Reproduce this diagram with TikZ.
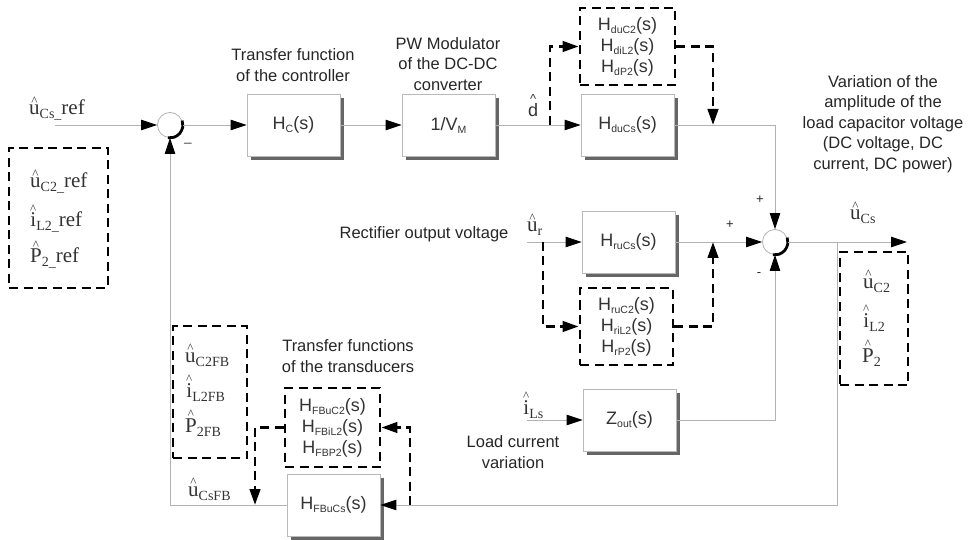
\documentclass[tikz,border=0pt]{standalone}
\usepackage{fontspec}
\setmainfont{Liberation Serif}
\setsansfont{Liberation Sans}
\usetikzlibrary{arrows.meta,shadows,calc}

\newcommand\hatt[1]{\leavevmode\vbox{\offinterlineskip\halign{\hfil##\hfil\cr{\fontsize{13}{13}\selectfont\char`\^}\cr\noalign{\kern0pt}#1\cr}}}
\newcommand\ssb[1]{\lower4pt\hbox{\fontsize{14}{14}\selectfont #1}}
\newcommand\bsb[1]{\lower3pt\hbox{\fontsize{10.5}{10.5}\selectfont #1}}
\newcommand\lblfont{\sffamily\fontsize{16.5}{20.5}\selectfont}
\newcommand\boxfont{\sffamily\fontsize{18}{21}\selectfont}
\newcommand\varfont{\rmfamily\fontsize{21}{21}\selectfont}

\begin{document}
\begin{tikzpicture}[x=1pt,y=-1pt,
  blk/.style={draw=gray!55, line width=0.8pt, fill=white, minimum width=93pt, minimum height=62pt, inner sep=0pt, font=\boxfont, text=black!80, drop shadow={shadow xshift=4pt, shadow yshift=-4pt, fill=black!60, opacity=1}},
  dbox/.style={draw=black, line width=2.8pt, dash pattern=on 9pt off 5.5pt, inner sep=0pt, align=center, font=\boxfont, text=black!80},
  conn/.style={draw=gray!60, line width=0.9pt},
  tip/.style={-{Triangle[length=16pt,width=10.5pt,color=black]}},
  dconn/.style={draw=black, line width=2.8pt, dash pattern=on 9pt off 5.5pt},
  sumj/.style={circle, draw=gray!60, line width=0.8pt, fill=white, minimum size=25pt, inner sep=0pt},
  lbl/.style={font=\lblfont, align=center, text=black!85},
  var/.style={font=\varfont, anchor=base west, inner sep=0pt, text=black!80},
  sgn/.style={font=\sffamily\fontsize{13}{13}\selectfont, inner sep=0pt, text=black!85},
]
\useasboundingbox (0,0) rectangle (975,540);

% summing junctions
\node[sumj] (s1) at (170,125) {};
\node[sumj] (s2) at (775,242) {};

% blocks
\node[blk] (Hc) at (293.5,125) {H\bsb{C}(s)};
\node[blk] (VM) at (448.5,125) {1/V\bsb{M}};
\node[blk] (HduCs) at (627.5,125) {H\bsb{duCs}(s)};
\node[blk] (Hr) at (628.5,242) {H\bsb{ruCs}(s)};
\node[blk] (Zout) at (629.5,420) {Z\bsb{out}(s)};
\node[blk] (HFB) at (333.5,505) {H\bsb{FBuCs}(s)};

% dashed boxes
\node[dbox, minimum width=95pt, minimum height=77pt] (d1) at (627.5,46.5)
  {H\bsb{duC2}(s)\\H\bsb{diL2}(s)\\H\bsb{dP2}(s)};
\node[dbox, minimum width=93pt, minimum height=77pt] (d2) at (626.5,326.5)
  {H\bsb{ruC2}(s)\\H\bsb{riL2}(s)\\H\bsb{rP2}(s)};
\node[dbox, minimum width=95pt, minimum height=79pt] (d3) at (332.5,427.5)
  {H\bsb{FBuC2}(s)\\H\bsb{FBiL2}(s)\\H\bsb{FBP2}(s)};
\node[dbox, minimum width=99pt, minimum height=140pt] (refbox) at (58.5,218) {};
\node[dbox, minimum width=68pt, minimum height=133pt] (outbox) at (874,318.5) {};
\node[dbox, minimum width=74pt, minimum height=132pt] (fbbox) at (210,392) {};

% junction shading arcs
\draw[line width=2.8pt] plot[smooth] coordinates {(s1.20) (s1.-10) (s1.-40) (s1.-70) (s1.-100)};
\draw[line width=2.8pt] plot[smooth] coordinates {(s2.20) (s2.-10) (s2.-40) (s2.-70) (s2.-100)};

% coordinates
\coordinate (in1) at (55,125);
\coordinate (dsplit) at (550,125);
\coordinate (dj) at (713,125);
\coordinate (c1) at (775,125);
\coordinate (ur) at (527,242);
\coordinate (rsplit) at (543,242);
\coordinate (rj) at (713,242);
\coordinate (ils) at (527,420);
\coordinate (out) at (907,242);
\coordinate (osplit) at (837,242);
\coordinate (fbc) at (837,505);
\coordinate (fbl) at (170,505);
\coordinate (fbsplit) at (410,505);
\coordinate (fbj) at (255,505);

% connectors
\draw[conn,tip] (in1) -- (s1);
\draw[conn,tip] (s1) -- (Hc);
\draw[conn,tip] (Hc) -- (VM);
\draw[conn,tip] (VM) -- (HduCs);
\draw[conn,tip] (HduCs) -- (c1) -- (s2);
\draw[conn,tip] (ur) -- (Hr);
\draw[conn,tip] (Hr) -- (s2);
\draw[conn,tip] (ils) -- (Zout);
\draw[conn,tip] (Zout) -| (s2);
\draw[conn,tip] (s2) -- (out);
\draw[conn,tip] (osplit) -- (fbc) -- (HFB);
\draw[conn,tip] (HFB) -- (fbl) -- (s1);

\draw[dconn,tip] (dsplit) |- (d1);
\draw[dconn,tip] (d1) -| (dj);
\draw[dconn,tip] (rsplit) |- (d2);
\draw[dconn,tip] (d2) -| (rj);
\draw[dconn,tip] (fbsplit) |- (d3);
\draw[dconn,tip] (d3) -| (fbj);

% variable labels
\node[var] (tref) at (29,115) {\hatt{u}\ssb{Cs\_}ref};
\node[var] (tc2r) at (30,188) {\hatt{u}\ssb{C2\_}ref};
\node[var] (til2r) at (30,227) {\hatt{i}\ssb{L2\_}ref};
\node[var] (tp2r) at (30,263) {\hatt{P}\ssb{2\_}ref};
\node[var] (tuc2) at (863,288) {\hatt{u}\ssb{C2}};
\node[var] (til2) at (863,327) {\hatt{i}\ssb{L2}};
\node[var] (tp2) at (862,362) {\hatt{P}\ssb{2}};
\node[var] (tuc2fb) at (185,362) {\hatt{u}\ssb{C2FB}};
\node[var] (til2fb) at (186,397) {\hatt{i}\ssb{L2FB}};
\node[var] (tp2fb) at (185,432) {\hatt{P}\ssb{2FB}};
\node[var] (tucsfb) at (188,496) {\hatt{u}\ssb{CsFB}};
\node[var] (tucs) at (850,220) {\hatt{u}\ssb{Cs}};
\node[var] (tur) at (527,232) {\hatt{u}\ssb{r}};
\node[var] (tils) at (523,414) {\hatt{i}\ssb{Ls}};
\node[font=\boxfont, anchor=base west, inner sep=0pt, text=black!80] (td) at (528,117) {\hatt{d}};

% descriptive labels
\node[lbl] (lc) at (293,65) {Transfer function\\of the controller};
\node[lbl] (lpw) at (448,64) {PW Modulator\\of the DC-DC\\converter};
\node[lbl] (lvar) at (883,124) {Variation of the\\amplitude of the\\load capacitor voltage\\(DC voltage, DC\\current, DC power)};
\node[lbl] (lrect) at (424,234) {Rectifier output voltage};
\node[lbl] (lload) at (513,452) {Load current\\variation};
\node[lbl] (ltr) at (348,356) {Transfer functions\\of the transducers};

% signs
\node[sgn] (p1) at (760,200) {+};
\node[sgn] (p2) at (730,225) {+};
\node[sgn] (m2) at (759,275) {-};
\node[sgn] (m1) at (188,143) {\_};
\end{tikzpicture}
\end{document}
